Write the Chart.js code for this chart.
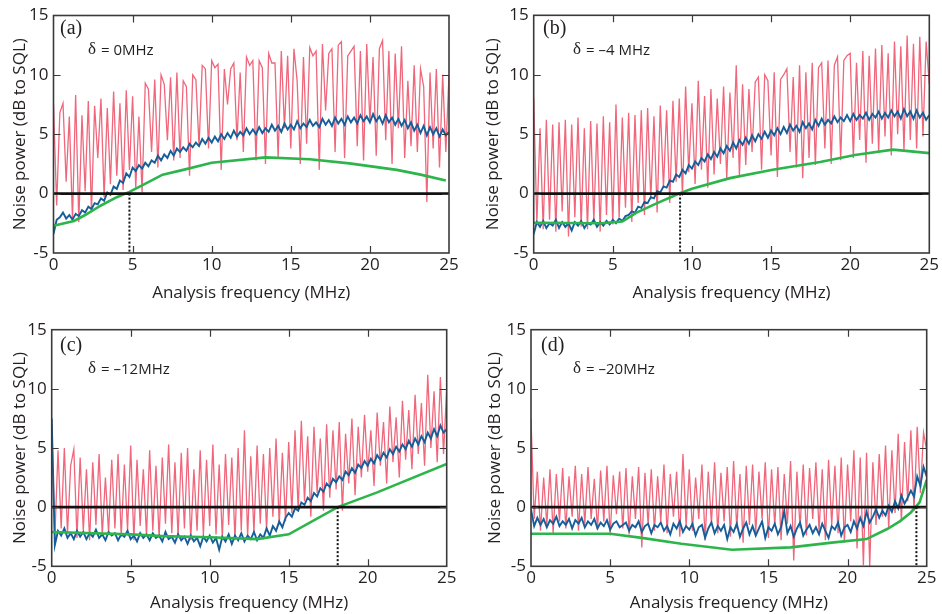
<!DOCTYPE html>
<html><head><meta charset="utf-8">
<script src="https://cdn.jsdelivr.net/npm/chart.js@4.4.1/dist/chart.umd.min.js"></script>
<style>
html,body{margin:0;padding:0;background:#fff;}
#wrap{position:relative;width:942px;height:614px;overflow:hidden;}
.p{position:absolute;width:471px;height:307px;}
</style></head><body>
<div id="wrap">
<div class="p" style="left:0;top:0"><canvas id="ca" width="471" height="307"></canvas></div>
<div class="p" style="left:471px;top:0"><canvas id="cb" width="471" height="307"></canvas></div>
<div class="p" style="left:0;top:307px"><canvas id="cc" width="471" height="307"></canvas></div>
<div class="p" style="left:471px;top:307px"><canvas id="cd" width="471" height="307"></canvas></div>
</div>
<script>
// ---- data ----
const xTicks = [0,5,10,15,20,25];
const yTicks = [-5,0,5,10,15];
const xTitle = 'Analysis frequency (MHz)';
const yTitle = 'Noise power (dB to SQL)';
const panelLabels = ['(a)','(b)','(c)','(d)'];
const detuningText = ['= 0MHz','= \u20134 MHz','= \u201312MHz','= \u201320MHz'];

const freq = [
0,0.2,0.4,0.6,0.8,1,1.2,1.4,1.6,1.8,
2,2.2,2.4,2.6,2.8,3,3.2,3.4,3.6,3.8,
4,4.2,4.4,4.6,4.8,5,5.2,5.4,5.6,5.8,
6,6.2,6.4,6.6,6.8,7,7.2,7.4,7.6,7.8,
8,8.2,8.4,8.6,8.8,9,9.2,9.4,9.6,9.8,
10,10.2,10.4,10.6,10.8,11,11.2,11.4,11.6,11.8,
12,12.2,12.4,12.6,12.8,13,13.2,13.4,13.6,13.8,
14,14.2,14.4,14.6,14.8,15,15.2,15.4,15.6,15.8,
16,16.2,16.4,16.6,16.8,17,17.2,17.4,17.6,17.8,
18,18.2,18.4,18.6,18.8,19,19.2,19.4,19.6,19.8,
20,20.2,20.4,20.6,20.8,21,21.2,21.4,21.6,21.8,
22,22.2,22.4,22.6,22.8,23,23.2,23.4,23.6,23.8,
24,24.2,24.4,24.6,24.8,25];

// panel (a)
const redA = [
7.5,-1.0,6.8,7.6,1.0,6.5,-2.2,8.3,-2.4,6.6,
0.2,7.8,-1.5,7.4,3.0,8.0,-0.3,7.2,0.8,8.6,
1.5,7.6,0.3,8.7,2.0,8.2,0.5,6.5,0.1,9.3,
8.8,3.5,9.6,2.2,10.0,9.2,4.5,9.8,2.8,10.2,
3.0,9.5,9.0,1.5,10.0,9.6,4.0,10.8,10.5,3.8,
11.2,10.6,10.9,2.0,10.5,7.5,10.5,11.0,4.5,10.2,
3.5,11.5,10.8,11.2,2.8,11.2,10.6,2.5,11.8,11.0,
11.0,3.0,12.0,5.5,11.6,3.8,12.2,9.5,2.5,11.5,
4.2,12.3,11.6,12.0,2.0,12.6,7.0,11.8,12.2,3.5,
12.5,12.8,3.0,11.6,12.0,12.4,4.0,12.0,2.8,12.6,
6.0,11.5,3.2,12.2,12.9,4.5,12.0,2.5,11.8,5.5,
12.4,3.0,9.5,4.0,10.8,3.5,10.5,9.0,-0.7,10.2,
3.8,10.5,2.2,10.0,3.5,10.0];
const blueA = [
-3.4,-2.2,-2.0,-1.6,-2.1,-1.8,-2.2,-1.7,-1.9,-1.4,
-1.6,-1.1,-1.3,-0.8,-0.9,-0.4,-0.6,0.1,-0.1,0.6,
0.4,1.1,0.9,1.7,1.4,2.2,1.9,2.4,2.1,2.6,
2.3,2.8,2.6,3.2,2.8,3.3,3.0,3.6,3.2,3.8,
3.5,3.9,3.6,4.2,3.9,4.3,4.0,4.6,4.2,4.7,
4.3,4.8,4.4,5.0,4.6,5.1,4.7,5.3,4.8,5.2,
4.9,5.5,5.0,5.4,5.0,5.6,5.1,5.5,5.2,5.8,
5.3,5.7,5.2,5.9,5.4,5.8,5.4,6.1,5.5,5.9,
5.6,6.2,5.7,6.0,5.6,6.3,5.8,6.2,5.7,6.4,
5.9,6.3,5.8,6.5,6.0,6.4,5.9,6.6,6.1,6.5,
6.0,6.7,6.1,6.5,5.9,6.6,6.0,6.4,5.8,6.3,
5.7,6.2,5.5,6.0,5.3,5.8,5.1,5.7,4.9,5.6,
5.0,5.5,4.8,5.4,4.9,5.2];
const greenAx = [0,1.3,2,3,4,4.8,5.6,6.9,8.2,10,13.4,16.2,18.7,21.7,23.2,24.8];
const greenAy = [-2.7,-2.3,-1.8,-1.0,-0.3,0.15,0.7,1.6,2.0,2.6,3.05,2.9,2.55,2.0,1.6,1.1];
const crossA = 4.8;

// panel (b)
const redB = [
8.0,-2.5,5.5,-3.0,6.2,-2.2,5.8,-3.2,6.0,-1.5,
6.2,-3.6,5.8,-2.0,6.4,-2.8,5.5,-3.0,6.1,-2.4,
5.9,-3.2,6.5,-1.8,6.0,-2.6,7.5,-2.0,6.4,-1.2,
6.8,-2.4,6.6,-0.8,7.0,-1.8,7.2,-0.5,6.5,-1.6,
7.4,0.5,7.0,-0.8,7.8,1.0,8.0,-0.2,9.0,1.8,
7.6,0.8,9.5,2.0,8.2,0.5,8.8,1.6,8.0,2.5,
9.0,1.2,8.5,3.0,10.8,1.5,9.2,2.4,8.8,3.5,
9.4,9.8,2.0,10.0,9.5,3.2,10.2,1.4,9.6,10.0,
10.5,3.5,9.8,2.2,10.8,1.3,10.2,3.0,11.0,2.4,
10.6,11.0,3.8,11.2,2.5,10.8,11.5,2.8,11.2,11.6,
11.8,3.0,11.0,4.5,12.0,2.6,11.6,4.2,12.2,3.5,
12.5,4.8,11.8,3.2,12.8,5.0,12.4,3.6,13.3,4.5,
12.6,3.8,13.2,4.8,12.8,9.2];
const blueB = [
-3.4,-2.4,-2.8,-2.3,-2.9,-2.5,-2.7,-2.2,-2.9,-2.4,
-2.8,-2.5,-3.1,-2.4,-2.7,-2.3,-2.9,-2.5,-2.6,-2.2,
-2.8,-2.4,-2.7,-2.3,-2.6,-2.2,-2.5,-2.1,-2.3,-1.9,
-1.8,-1.5,-1.6,-1.1,-1.2,-0.7,-0.8,-0.3,-0.4,0.2,
0.1,0.6,0.5,1.1,1.0,1.6,1.4,2.0,1.7,2.4,
2.1,2.7,2.4,3.0,2.7,3.3,2.9,3.5,3.1,3.8,
3.4,4.0,3.6,4.3,3.8,4.5,4.1,4.7,4.2,4.9,
4.4,5.0,4.6,5.2,4.7,5.3,4.9,5.5,5.0,5.6,
5.1,5.8,5.3,5.7,5.2,6.0,5.5,5.9,5.4,6.2,
5.7,6.3,5.8,6.2,5.9,6.5,6.0,6.4,6.1,6.6,
6.1,6.7,6.2,6.6,6.3,6.8,6.2,6.7,6.4,6.9,
6.3,6.8,6.4,7.0,6.5,6.9,6.3,7.1,6.5,6.9,
6.3,7.0,6.4,6.8,6.2,6.6];
const greenBx = [0,4.3,5.6,6.5,7.8,9.2,10,12.4,15.1,18.1,20.3,22.7,25];
const greenBy = [-2.45,-2.5,-2.35,-1.6,-0.8,0,0.4,1.3,2.0,2.65,3.25,3.7,3.4];
const crossB = 9.25;

// panel (c)
const redC = [
7.0,-2.5,4.8,-1.8,5.0,-2.2,3.5,4.9,-2.6,4.2,
-2.0,3.2,-2.8,3.8,-1.5,4.5,-2.4,2.5,-2.2,4.0,
-1.8,4.5,-2.5,3.6,-2.0,5.2,-2.8,4.0,-1.6,3.2,
-2.4,4.8,-2.0,3.5,-2.6,4.2,-1.4,5.3,-2.2,3.8,
-2.5,4.6,-1.8,5.0,-2.8,3.2,-2.0,4.8,-2.4,4.0,
-1.6,5.3,-2.3,3.6,-2.6,4.5,-1.5,4.2,-2.8,5.0,
-2.0,6.5,-2.5,4.3,-2.2,5.2,-1.4,4.5,-2.0,5.0,
-0.8,5.8,-1.5,4.6,-1.2,5.5,-0.5,6.5,-0.2,7.3,
0.5,6.0,-0.8,6.8,1.2,5.8,-0.3,7.0,0.8,6.5,
1.5,7.2,-0.3,6.2,2.0,7.5,1.0,6.8,2.5,7.8,
3.0,6.5,1.8,8.0,3.5,7.2,2.0,8.5,3.8,7.6,
2.5,9.0,4.0,8.2,3.2,9.5,4.5,8.8,3.5,11.2,
5.0,9.8,3.8,11.0,4.5,10.0];
const blueC = [
7.5,-3.2,-2.0,-2.4,-1.8,-2.6,-2.2,-2.7,-2.0,-2.5,
-2.1,-2.7,-2.2,-2.5,-1.9,-2.6,-2.3,-2.8,-2.1,-2.4,
-2.2,-2.8,-2.3,-2.5,-2.0,-2.7,-2.4,-2.9,-2.2,-2.6,
-2.3,-2.8,-2.2,-2.6,-2.4,-2.9,-2.1,-2.7,-2.5,-3.0,
-2.3,-2.8,-2.5,-3.1,-2.4,-2.9,-2.6,-3.3,-2.5,-2.9,
-2.4,-3.0,-2.6,-3.6,-2.5,-2.9,-2.3,-3.1,-2.4,-2.8,
-2.2,-2.9,-2.4,-2.7,-2.1,-2.8,-2.3,-2.6,-1.8,-2.4,
-1.6,-2.0,-1.2,-1.7,-0.9,-0.5,-0.8,-0.1,-0.3,0.4,
0.2,0.8,0.5,1.2,0.9,1.6,1.3,2.0,1.7,2.4,
2.1,2.6,2.3,3.0,2.7,3.3,2.9,3.6,3.3,3.9,
3.5,4.1,3.7,4.4,4.0,4.6,4.2,4.9,4.5,5.1,
4.7,5.3,4.9,5.6,5.1,5.8,5.3,6.0,5.5,6.3,
5.8,6.6,6.0,6.9,6.3,6.6];
const greenCx = [0,5,7,10,13,15,18.1,20.6,25];
const greenCy = [-2.1,-2.3,-2.45,-2.55,-2.7,-2.3,0,1.25,3.65];
const crossC = 18.1;

// panel (d)
const redD = [
7.5,-1.0,3.0,-2.0,2.5,-1.5,3.2,-2.2,2.8,-1.2,
3.3,-1.8,2.6,-0.8,3.5,-2.0,2.8,-1.4,3.4,-1.0,
2.4,-1.9,3.1,-1.2,3.5,-2.4,2.7,-0.6,3.0,-1.8,
3.3,-2.3,2.6,-1.0,3.4,-3.4,2.9,-1.5,3.2,-2.0,
2.6,-1.2,3.6,-2.2,2.8,-0.8,3.0,-2.5,4.5,-1.6,
3.2,-2.0,2.5,-1.0,3.6,-2.8,3.0,-1.4,3.8,-2.2,
2.9,-1.2,3.4,-2.5,3.9,-1.8,2.8,-3.0,3.5,-1.5,
3.6,-2.2,3.0,-1.0,3.8,-2.6,3.2,-1.6,3.4,-2.8,
2.8,-1.4,3.9,-4.5,3.0,-1.8,3.6,-2.4,3.3,-1.0,
3.8,-2.0,3.2,-2.8,4.0,-1.5,3.5,-2.2,4.2,-3.0,
3.6,-1.2,4.8,-3.5,4.2,-4.9,4.6,-5.0,3.8,-1.5,
4.5,-0.8,5.2,-1.8,4.8,-0.5,6.2,-1.2,5.5,0.5,
6.5,-0.3,6.8,1.2,6.3,4.8];
const blueD = [
-0.2,-1.6,-0.9,-1.5,-1.0,-1.7,-1.1,-1.4,-0.8,-1.6,
-1.2,-1.5,-1.0,-1.8,-1.1,-1.4,-0.9,-1.7,-1.2,-1.5,
-1.0,-1.8,-1.3,-1.6,-1.1,-1.9,-1.4,-1.2,-1.7,-1.5,
-1.3,-2.0,-1.5,-1.7,-1.2,-2.1,-1.6,-1.4,-2.2,-1.5,
-1.7,-1.3,-2.0,-1.6,-2.3,-1.4,-1.8,-1.2,-2.1,-1.6,
-1.9,-1.4,-2.4,-1.7,-1.5,-2.6,-1.8,-1.3,-2.2,-1.6,
-2.0,-1.5,-2.7,-1.7,-2.1,-1.4,-2.5,-1.8,-1.3,-2.3,
-1.6,-2.4,-1.8,-1.2,-2.6,-1.7,-2.0,-1.4,-2.3,-1.7,
-0.3,-2.2,-1.6,-2.5,-1.8,-1.3,-2.4,-1.9,-1.5,-2.2,
-1.7,-2.3,-1.4,-2.0,-2.6,-1.6,-1.9,-1.3,-2.4,-1.7,
-1.5,-2.1,-1.2,-1.8,-0.9,-1.6,-0.4,-1.3,-0.8,-0.2,
-0.9,-0.3,-0.7,0.1,-0.4,0.5,-0.1,1.0,0.3,0.8,
1.4,0.9,2.6,1.8,3.4,2.6];
const greenDx = [0,5,7,9.5,12.7,16.4,19,21.2,22.5,23.3,24.0,24.55,25];
const greenDy = [-2.25,-2.25,-2.6,-3.1,-3.6,-3.4,-3.0,-2.7,-1.85,-1.2,-0.45,0.4,2.3];
const crossD = 24.35;

// ---- layout / style (not data) ----
const RED = '#f0667b', BLUE = '#165e99', GREEN = '#2db54c', INK = '#231f20', FRAME = '#3a3a3a';
const FONT = '"Open Sans", "DejaVu Sans", sans-serif';

const panels = [
  {id:'ca', red:redA, blue:blueA, gx:greenAx, gy:greenAy, cross:crossA, label:0,
   yw:53.5, padR:22, padT:15.5, xh:54, yTP:9.8, xTP:3.8, lx:60, ly:19, dx:88, dy:50},
  {id:'cb', red:redB, blue:blueB, gx:greenBx, gy:greenBy, cross:crossB, label:1,
   yw:62.7, padR:12.7, padT:15.3, xh:54, yTP:11.8, xTP:3.8, lx:72, ly:19, dx:102, dy:50},
  {id:'cc', red:redC, blue:blueC, gx:greenCx, gy:greenCy, cross:crossC, label:2,
   yw:51.7, padR:24.3, padT:22.7, xh:47.7, yTP:9.8, xTP:0.8, lx:60, ly:29, dx:88, dy:62},
  {id:'cd', red:redD, blue:blueD, gx:greenDx, gy:greenDy, cross:crossD, label:3,
   yw:60, padR:15.3, padT:22.7, xh:47.7, yTP:13.8, xTP:0.8, lx:70, ly:29, dx:102, dy:62}
];

const decor = {
  id:'decor',
  afterDatasetsDraw(chart) {
    const {ctx, chartArea:a, scales:{x, y}} = chart;
    const p = chart.options.plugins.decor;
    ctx.save();
    ctx.strokeStyle = FRAME; ctx.lineWidth = 1.2;
    const L = 7;
    ctx.beginPath();
    xTicks.forEach(v => {
      if (v <= 0 || v >= 25) return;
      const px = Math.round(x.getPixelForValue(v)) + 0.5;
      ctx.moveTo(px, a.top); ctx.lineTo(px, a.top + L);
      ctx.moveTo(px, a.bottom); ctx.lineTo(px, a.bottom - L);
    });
    yTicks.forEach(v => {
      if (v <= -5 || v >= 15) return;
      const py = Math.round(y.getPixelForValue(v)) + 0.5;
      ctx.moveTo(a.left, py); ctx.lineTo(a.left + L, py);
      ctx.moveTo(a.right, py); ctx.lineTo(a.right - L, py);
    });
    ctx.stroke();
    ctx.lineWidth = 1.6;
    ctx.strokeRect(a.left, a.top, a.right - a.left, a.bottom - a.top);
    // panel label
    ctx.fillStyle = INK;
    ctx.textBaseline = 'top'; ctx.textAlign = 'left';
    ctx.font = '20px "Liberation Serif", serif';
    ctx.fillText(panelLabels[p.label], p.lx, p.ly);
    ctx.textBaseline = 'middle';
    ctx.font = '17px "Liberation Serif", serif';
    ctx.fillText('\u03b4', p.dx, p.dy);
    const w = ctx.measureText('\u03b4').width;
    ctx.font = '15px ' + FONT;
    ctx.fillText(detuningText[p.label], p.dx + w + 5, p.dy + 1);
    ctx.restore();
  }
};

panels.forEach(p => {
  new Chart(document.getElementById(p.id), {
    type: 'line',
    data: { datasets: [
      { data: [{x:0, y:0}, {x:25, y:0}], borderColor: '#111', borderWidth: 2.6 },
      { data: [{x:p.cross, y:0}, {x:p.cross, y:-5}], borderColor: '#111', borderWidth: 2, borderDash: [2, 2] },
      { data: p.gx.map((v, i) => ({x:v, y:p.gy[i]})), borderColor: GREEN, borderWidth: 2.6 },
      { data: freq.map((v, i) => ({x:v, y:p.blue[i]})), borderColor: BLUE, borderWidth: 1.9 },
      { data: freq.map((v, i) => ({x:v, y:p.red[i]})), borderColor: RED, borderWidth: 1.3 }
    ]},
    options: {
      responsive: false, animation: false, events: [],
      elements: { point: { radius: 0 }, line: { tension: 0, borderCapStyle: 'butt' } },
      layout: { padding: { left: 0, right: p.padR, top: p.padT, bottom: 0 } },
      plugins: { legend: { display: false }, tooltip: { enabled: false }, decor: p },
      scales: {
        x: {
          type: 'linear', min: 0, max: 25,
          afterBuildTicks: s => { s.ticks = xTicks.map(v => ({value: v})); },
          ticks: { font: { size: 17, family: FONT }, color: INK, padding: 2, maxRotation: 0, autoSkip: false },
          grid: { display: false, drawTicks: false }, border: { display: false },
          title: { display: true, text: xTitle, color: INK, font: { size: 17, family: FONT }, padding: { top: 0, bottom: p.xTP } },
          afterFit: s => { s.height = p.xh; }
        },
        y: {
          type: 'linear', min: -5, max: 15,
          afterBuildTicks: s => { s.ticks = yTicks.map(v => ({value: v})); },
          ticks: { font: { size: 17, family: FONT }, color: INK, padding: 5, autoSkip: false },
          grid: { display: false, drawTicks: false }, border: { display: false },
          title: { display: true, text: yTitle, color: INK, font: { size: 17, family: FONT }, padding: { top: p.yTP, bottom: 0 } },
          afterFit: s => { s.width = p.yw; }
        }
      }
    },
    plugins: [decor]
  });
});
</script>
</body></html>
